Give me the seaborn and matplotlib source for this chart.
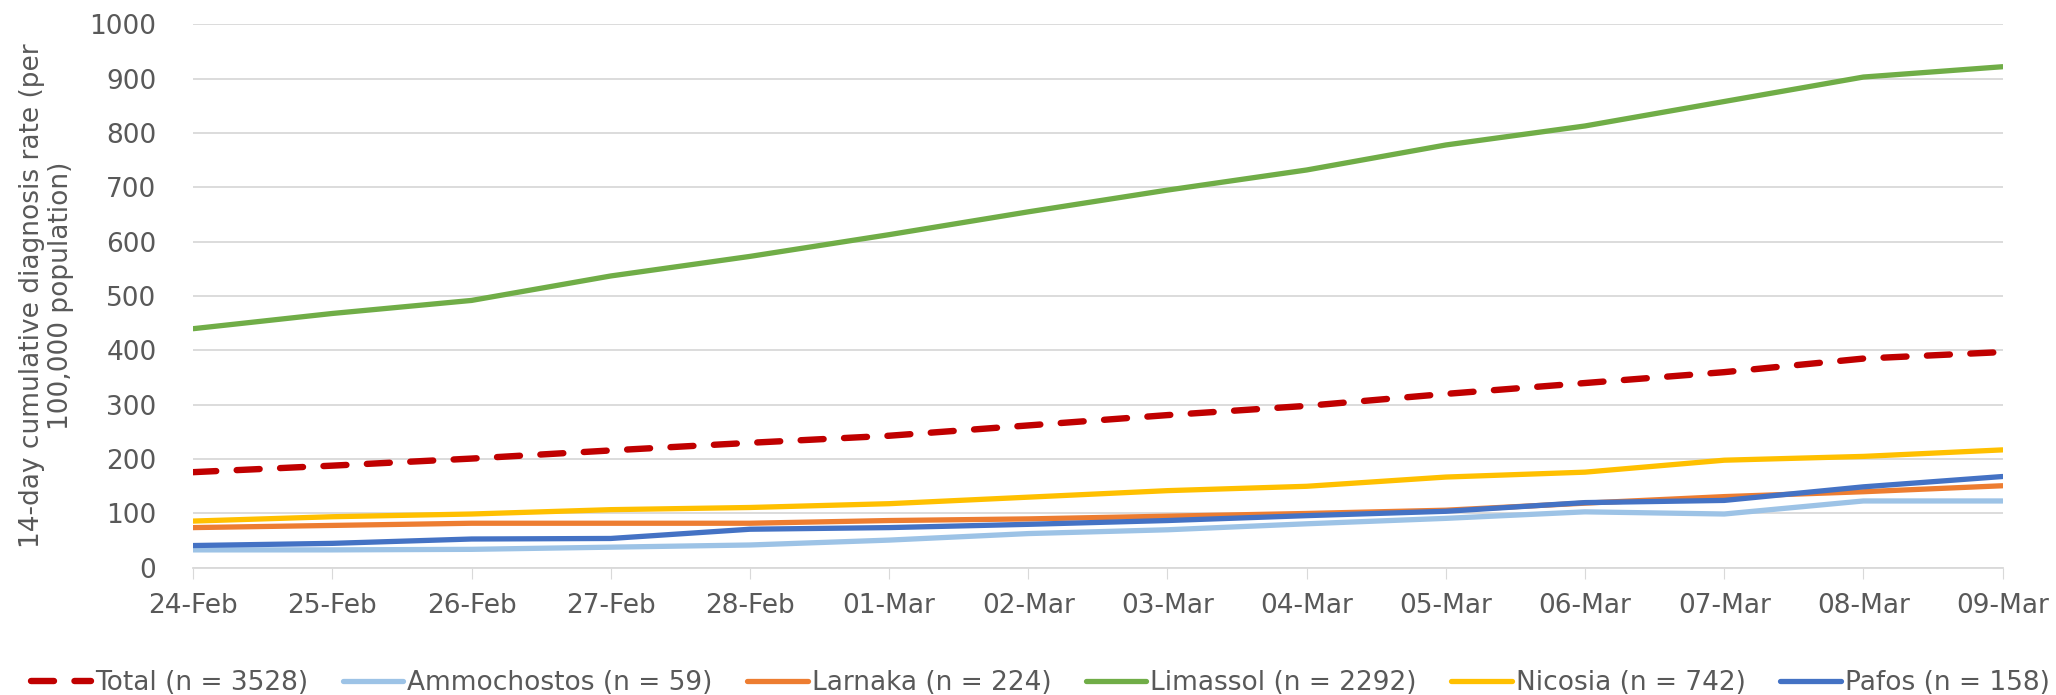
import numpy as np
import pandas as pd
import seaborn as sns
import matplotlib.pyplot as plt

dates = ['24-Feb', '25-Feb', '26-Feb', '27-Feb', '28-Feb', '01-Mar', '02-Mar',
         '03-Mar', '04-Mar', '05-Mar', '06-Mar', '07-Mar', '08-Mar', '09-Mar']

total = [176, 188, 201, 216, 230, 243, 262, 281, 298, 320, 340, 360, 385, 397]
ammochostos = [33, 33, 34, 38, 42, 51, 63, 70, 81, 91, 103, 99, 123, 123]
larnaka = [74, 78, 82, 82, 82, 87, 90, 95, 100, 106, 119, 131, 140, 151]
limassol = [440, 468, 492, 537, 573, 613, 655, 695, 732, 778, 813, 858, 903, 922]
nicosia = [86, 94, 99, 107, 111, 118, 130, 142, 150, 167, 176, 198, 205, 217]
pafos = [41, 45, 53, 54, 71, 74, 80, 87, 96, 104, 120, 124, 149, 168]

labels = ['Total (n = 3528)', 'Ammochostos (n = 59)', 'Larnaka (n = 224)',
          'Limassol (n = 2292)', 'Nicosia (n = 742)', 'Pafos (n = 158)']
series = [total, ammochostos, larnaka, limassol, nicosia, pafos]
colors = ['#C00000', '#9DC3E6', '#ED7D31', '#70AD47', '#FFC000', '#4472C4']

sns.set_style('white')
plt.rcParams['font.family'] = ['DejaVu Sans']

fig, ax = plt.subplots(figsize=(20.56, 6.95), dpi=100)
x = np.arange(len(dates))

for lab, vals, col in zip(labels, series, colors):
    df = pd.DataFrame({'x': x, 'y': vals})
    if lab.startswith('Total'):
        sns.lineplot(data=df, x='x', y='y', ax=ax, color=col, linewidth=4.6,
                     label=lab)
        ln = ax.lines[-1]
        ln.set_dashes([3.6, 3.2])
        ln.set_dash_capstyle('round')
    else:
        sns.lineplot(data=df, x='x', y='y', ax=ax, color=col, linewidth=3.8,
                     label=lab)
        ax.lines[-1].set_solid_capstyle('round')

ax.set_xlim(0, len(dates) - 1)
ax.set_ylim(0, 1000)
ax.set_yticks(range(0, 1001, 100))
ax.set_xticks(x)
ax.set_xticklabels(dates)
ax.yaxis.grid(True, color='#d9d9d9', linewidth=1.3)
ax.xaxis.grid(False)
for s in ['left', 'right', 'top']:
    ax.spines[s].set_visible(False)
ax.spines['bottom'].set_color('#d9d9d9')
ax.spines['bottom'].set_linewidth(1.3)
ax.tick_params(axis='x', which='major', bottom=True, length=8, color='#d9d9d9',
               labelsize=19, labelcolor='#595959', pad=10)
ax.tick_params(axis='y', left=False, labelsize=19, labelcolor='#595959', pad=23)
ax.set_xlabel('')
ax.set_ylabel('14-day cumulative diagnosis rate (per\n100,000 population)',
              fontsize=19, color='#595959', labelpad=11, linespacing=1.15)

ax.legend(loc='upper center', bbox_to_anchor=(0.468, -0.145), ncol=6, frameon=False,
          fontsize=19, labelcolor='#595959', handlelength=2.3, handletextpad=0.15,
          columnspacing=1.3)

plt.subplots_adjust(left=0.094, right=0.974, top=0.965, bottom=0.183)
plt.savefig('out.png', dpi=100)
